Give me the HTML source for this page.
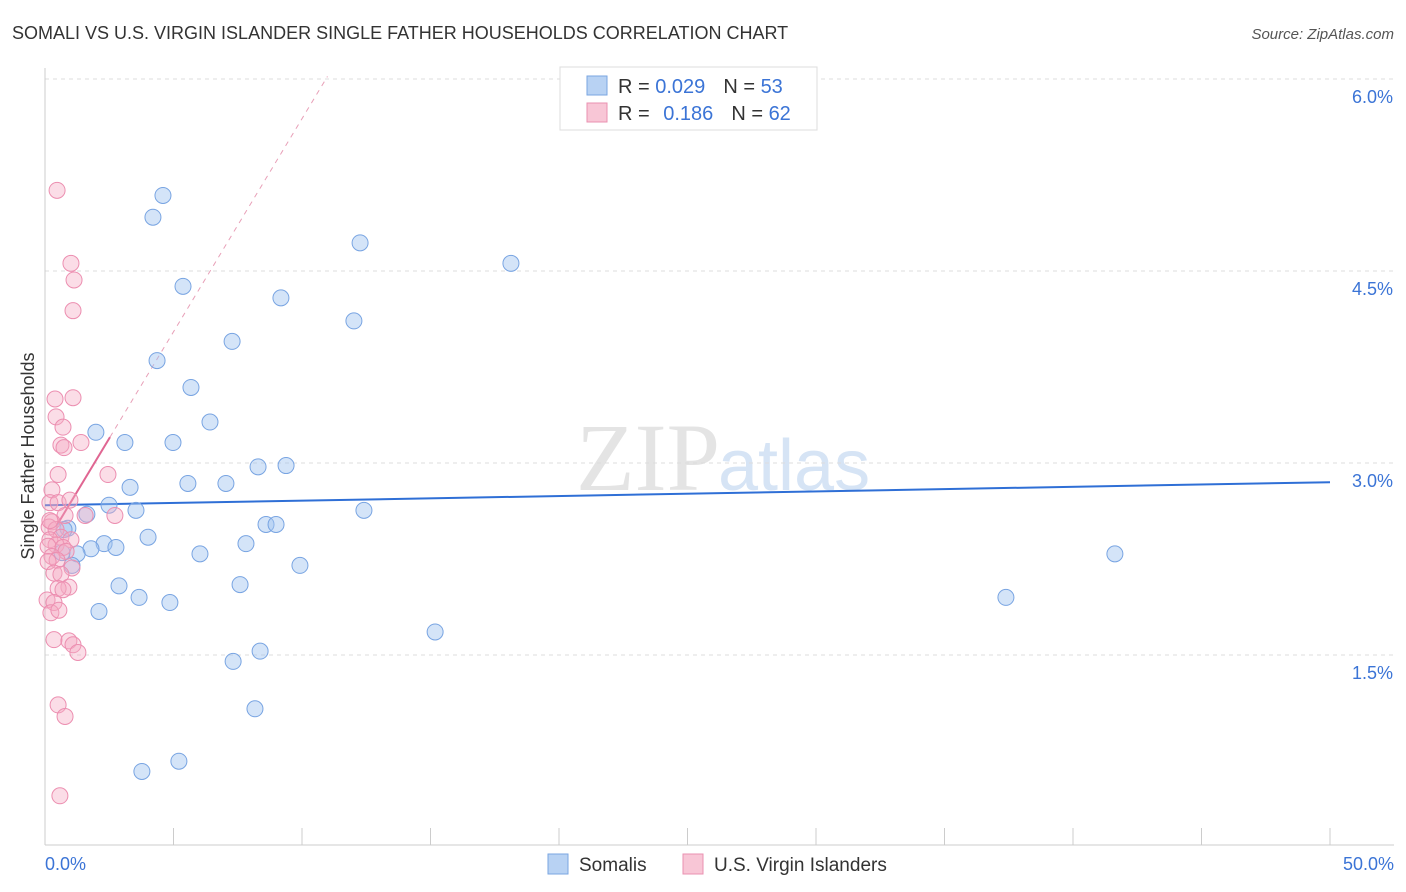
<!DOCTYPE html>
<html><head><meta charset="utf-8"><style>
body{margin:0;background:#fff;font-family:"Liberation Sans",sans-serif;}
svg{display:block}
</style></head><body>
<svg id="chart" width="1406" height="892">
<text x="12" y="39" font-size="18" fill="#333">SOMALI VS U.S. VIRGIN ISLANDER SINGLE FATHER HOUSEHOLDS CORRELATION CHART</text>
<text x="1394" y="39" font-size="15" fill="#555" font-style="italic" text-anchor="end">Source: ZipAtlas.com</text>
<text x="720" y="490" font-size="96" fill="#e4e4e4" text-anchor="end" font-family="Liberation Serif">ZIP</text>
<text x="718" y="490" font-size="72" fill="#d6e4f5">atlas</text>
<text transform="translate(34,456) rotate(-90)" font-size="18" fill="#333" text-anchor="middle">Single Father Households</text>
<g id="grid"></g><g id="axes"></g><g id="trend"></g><g id="pts"></g>
<g>
<rect x="560" y="67" width="257" height="63" fill="#fff" stroke="#ddd"/>
<rect x="587" y="76" width="20" height="19" fill="#b8d2f3" stroke="#7aa6e2"/>
<rect x="587" y="103" width="20" height="19" fill="#f8c6d6" stroke="#ea90b0"/>
<text x="618" y="93" font-size="20" fill="#333">R = <tspan fill="#3b74d6">0.029</tspan><tspan dx="18">N = </tspan><tspan fill="#3b74d6">53</tspan></text>
<text x="618" y="120" font-size="20" fill="#333">R = <tspan dx="8" fill="#3b74d6">0.186</tspan><tspan dx="18">N = </tspan><tspan fill="#3b74d6">62</tspan></text>
</g>
<g>
<rect x="548" y="854" width="20" height="20" fill="#b8d2f3" stroke="#7aa6e2"/>
<text x="579" y="871" font-size="19" fill="#333">Somalis</text>
<rect x="683" y="854" width="20" height="20" fill="#f8c6d6" stroke="#ea90b0"/>
<text x="714" y="871" font-size="19" fill="#333">U.S. Virgin Islanders</text>
</g>
</svg>
<script>
const xTicks=[0,5,10,15,20,25,30,35,40,45,50];
const yTicks=[1.5,3.0,4.5,6.0];
const blueX=[4.59,4.20,12.26,18.13,5.37,9.18,12.02,7.28,4.36,5.68,6.42,1.98,3.11,4.98,8.29,9.38,5.56,7.04,3.31,2.49,3.54,1.63,12.41,0.89,8.60,8.99,4.01,2.30,7.82,2.76,1.79,1.25,6.03,41.63,9.92,1.05,2.88,7.59,3.66,4.86,37.39,2.10,15.18,8.37,7.32,8.17,3.77,5.21,0.66,0.74];
const blueY=[5.09,4.92,4.72,4.56,4.38,4.29,4.11,3.95,3.80,3.59,3.32,3.24,3.16,3.16,2.97,2.98,2.84,2.84,2.81,2.67,2.63,2.60,2.63,2.49,2.52,2.52,2.42,2.37,2.37,2.34,2.33,2.29,2.29,2.29,2.20,2.20,2.04,2.05,1.95,1.91,1.95,1.84,1.68,1.53,1.45,1.08,0.59,0.67,2.30,2.48];
const pinkX=[0.47,1.01,1.13,1.09,0.39,1.09,0.43,0.70,0.62,0.74,1.40,2.45,0.51,0.27,0.19,0.51,0.78,0.27,0.16,0.43,0.62,0.19,1.01,0.43,0.12,0.70,0.82,0.27,0.47,0.12,1.05,0.35,0.62,0.93,0.51,0.70,0.08,0.35,0.23,0.54,0.35,0.93,1.09,1.28,0.51,0.78,0.58,2.72,1.56,0.97,0.19];
const pinkY=[5.13,4.56,4.43,4.19,3.50,3.51,3.36,3.28,3.14,3.12,3.16,2.91,2.91,2.79,2.69,2.69,2.59,2.54,2.50,2.48,2.42,2.40,2.40,2.36,2.35,2.34,2.31,2.27,2.24,2.23,2.18,2.14,2.13,2.03,2.02,2.01,1.93,1.91,1.83,1.85,1.62,1.61,1.58,1.52,1.11,1.02,0.40,2.59,2.59,2.71,2.55];
const blueTrend=[2.67,2.85];
const pinkSlope=0.333, pinkIntercept=2.36;
const NS="http://www.w3.org/2000/svg";
const X=v=>45+v*25.7, Y=v=>463-(v-3)*128;
function mk(parent,tag,attrs){const e=document.createElementNS(NS,tag);for(const k in attrs)e.setAttribute(k,attrs[k]);document.getElementById(parent).appendChild(e);return e;}
yTicks.forEach(t=>{
 const l=mk('grid','line',{x1:45,x2:1394,y1:Y(t),y2:Y(t),stroke:'#ddd','stroke-dasharray':'4,4'});
 
 
 const tx=mk('grid','text',{x:1393,y:Y(t)+24,'font-size':18,fill:'#3b74d6','text-anchor':'end'});
 tx.textContent=t.toFixed(1)+'%';
 
 
});
mk('axes','line',{x1:45,x2:45,y1:68,y2:845,stroke:'#ccc'});
mk('axes','line',{x1:45,x2:1394,y1:845,y2:845,stroke:'#ccc'});
xTicks.forEach(t=>{
 const l=mk('axes','line',{x1:X(t),x2:X(t),y1:828,y2:845,stroke:'#ccc'});
 
 
});
[[0,'start',45],[50,'end',1394]].forEach(([t,a,px])=>{
 const tx=mk('axes','text',{x:px,y:870,'font-size':18,fill:'#3b74d6','text-anchor':a});
 tx.textContent=t.toFixed(1)+'%';
 
 
});
const bt=mk('trend','line',{x1:X(0),y1:Y(blueTrend[0]),x2:X(50),y2:Y(blueTrend[1]),stroke:'#2f6fd6','stroke-width':2});


const pe=(6.02-pinkIntercept)/pinkSlope;
const pd=mk('trend','line',{x1:X(2.53),y1:Y(pinkIntercept+pinkSlope*2.53),x2:X(pe),y2:Y(6.02),stroke:'#e8a0b8','stroke-width':1,'stroke-dasharray':'5,5'});


const ps=mk('trend','line',{x1:X(0.47),y1:Y(pinkIntercept+pinkSlope*0.47),x2:X(2.53),y2:Y(pinkIntercept+pinkSlope*2.53),stroke:'#e06692','stroke-width':2});


blueX.forEach((v,i)=>{
 const c=mk('pts','circle',{cx:X(v),cy:Y(blueY[i]),r:8,fill:'rgba(160,195,240,0.45)',stroke:'#78a4e2','stroke-width':1});
 
 
});
pinkX.forEach((v,i)=>{
 const c=mk('pts','circle',{cx:X(v),cy:Y(pinkY[i]),r:8,fill:'rgba(245,170,195,0.4)',stroke:'#ec8eb0','stroke-width':1});
 
 
});
</script>
</body></html>
